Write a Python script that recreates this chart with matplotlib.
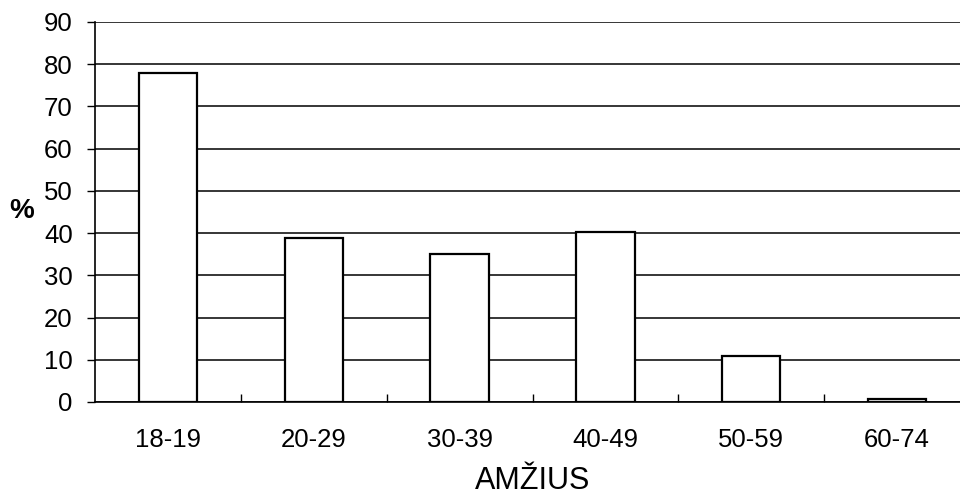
import matplotlib
matplotlib.use("Agg")
import matplotlib.pyplot as plt
from matplotlib.ticker import MultipleLocator, FixedLocator

plt.rcParams['font.family'] = ['Liberation Sans', 'DejaVu Sans']

groups = ["18-19", "20-29", "30-39", "40-49", "50-59", "60-74"]
percent = [78, 38.8, 35, 40.3, 10.8, 0.8]

fig = plt.figure(figsize=(9.6, 4.99), dpi=100)
ax = fig.add_axes([0.099, 0.1944, 0.9114, 0.7616])

x = list(range(len(groups)))
ax.bar(x, percent, width=0.4, color="white", edgecolor="black", linewidth=1.6, zorder=3)

ax.set_xlim(-0.5, 5.5)
ax.set_ylim(0, 90)
ax.yaxis.set_major_locator(MultipleLocator(10))
ax.grid(axis="y", color="black", linewidth=1.1, zorder=0)

ax.set_xticks(x)
ax.set_xticklabels(groups)
ax.xaxis.set_minor_locator(FixedLocator([i + 0.5 for i in range(len(groups) - 1)]))
ax.tick_params(axis="x", which="major", length=0, pad=19, labelsize=18.5)
ax.tick_params(axis="x", which="minor", direction="in", length=6, width=1)
ax.tick_params(axis="y", which="major", direction="out", length=6, width=1, pad=10, labelsize=18.5)

for side in ["top", "right"]:
    ax.spines[side].set_visible(False)
ax.spines["left"].set_linewidth(1.2)
ax.spines["bottom"].set_linewidth(1.2)

ax.set_xlabel("AMŽIUS", fontsize=22, labelpad=10)
fig.text(0.023, 0.578, "%", fontsize=20, fontweight="bold", ha="center", va="center")

fig.savefig("out.png", dpi=100)
